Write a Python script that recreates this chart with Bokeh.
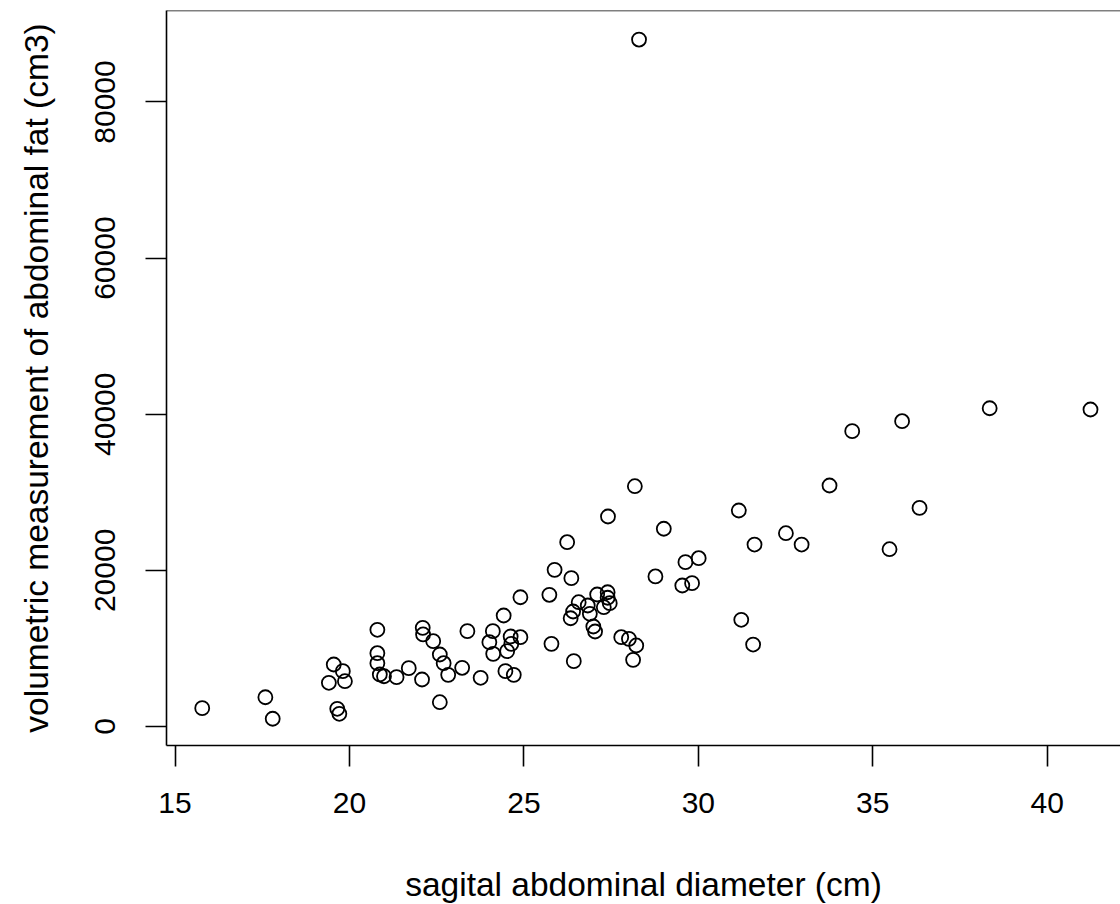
from bokeh.plotting import figure
from bokeh.models import Range1d, FixedTicker, Span
from bokeh.embed import file_html
from bokeh.resources import INLINE

# sagital abdominal diameter (cm)
diameter = [15.78, 17.59, 17.80, 19.41, 19.55, 19.65, 19.71, 19.81, 19.87,
            20.80, 20.80, 20.80, 20.87, 20.99, 21.35, 21.70, 22.08, 22.10,
            22.11, 22.40, 22.59, 22.70, 22.83, 22.59, 23.23, 23.38, 23.76,
            24.01, 24.11, 24.12, 24.42, 24.47, 24.52, 24.62, 24.64, 24.71,
            24.90, 24.90, 25.73, 25.79, 25.88, 26.24, 26.34, 26.36, 26.41,
            26.43, 26.57, 26.83, 26.89, 26.99, 27.04, 27.10, 27.29, 27.40,
            27.40, 27.41, 27.46, 27.79, 28.01, 28.13, 28.18, 28.22, 28.30,
            28.77, 29.01, 29.54, 29.63, 29.82, 30.01, 31.16, 31.23, 31.57,
            31.61, 32.51, 32.96, 33.76, 34.41, 35.48, 35.84, 36.34, 38.35,
            41.24]

# volumetric measurement of abdominal fat (cm3)
fat_volume = [2350, 3750, 990, 5600, 7940, 2270, 1630, 7090, 5800,
              12390, 9390, 8110, 6660, 6440, 6320, 7470, 6020, 12640,
              11790, 10930, 9220, 8110, 6620, 3110, 7520, 12210, 6240,
              10800, 12210, 9310, 14220, 7090, 9650, 11530, 10590, 6620,
              11440, 16560, 16870, 10590, 20070, 23610, 13870, 19000, 14730,
              8370, 15920, 15500, 14440, 12810, 12170, 16910, 15280, 17200,
              16490, 26900, 15800, 11440, 11230, 8540, 30780, 10380, 88000,
              19220, 25330, 18060, 21050, 18360, 21560, 27670, 13670, 10500,
              23310, 24760, 23310, 30870, 37830, 22710, 39110, 28000, 40770,
              40610]

x_ticks = [15, 20, 25, 30, 35, 40]
y_ticks = [0, 20000, 40000, 60000, 80000]
x_label = "sagital abdominal diameter (cm)"
y_label = "volumetric measurement of abdominal fat (cm3)"

FONT = "Liberation Sans"

x_start, x_end = 14.756, 42.10
y_start, y_end = -2434, 91720

p = figure(frame_width=954, frame_height=735,
           min_border_left=166, min_border_right=0,
           min_border_top=10, min_border_bottom=159,
           x_range=Range1d(x_start, x_end), y_range=Range1d(y_start, y_end),
           output_backend="svg", toolbar_location=None, title=None)

p.outline_line_color = None
p.xgrid.visible = False
p.ygrid.visible = False
p.background_fill_color = "white"
p.border_fill_color = "white"

p.scatter(diameter, fat_volume, marker="circle", size=14,
          fill_color=None, line_color="black", line_width=1.8)

for ax in (p.xaxis[0], p.yaxis[0]):
    ax.axis_line_color = "black"
    ax.axis_line_width = 1.6
    ax.major_tick_line_color = "black"
    ax.major_tick_line_width = 1.6
    ax.major_tick_in = 0
    ax.major_tick_out = 21
    ax.minor_tick_line_color = None
    ax.major_label_text_font = FONT
    ax.major_label_text_font_size = "30px"
    ax.major_label_text_color = "black"
    ax.axis_label_text_font = FONT
    ax.axis_label_text_font_size = "33.5px"
    ax.axis_label_text_font_style = "normal"
    ax.axis_label_text_color = "black"

p.xaxis[0].ticker = FixedTicker(ticks=x_ticks)
p.yaxis[0].ticker = FixedTicker(ticks=y_ticks)
p.xaxis[0].major_label_overrides = {t: str(t) for t in x_ticks}
p.yaxis[0].major_label_overrides = {t: str(t) for t in y_ticks}
p.yaxis[0].major_label_orientation = "vertical"
p.xaxis[0].major_label_standoff = 26
p.yaxis[0].major_label_standoff = 30
p.xaxis[0].axis_label = x_label
p.yaxis[0].axis_label = y_label
p.xaxis[0].axis_label_standoff = 50
p.yaxis[0].axis_label_standoff = 38

p.add_layout(Span(location=y_end, dimension="width",
                  line_color="black", line_width=1.6))

open("out.html", "w").write(file_html(p, INLINE))
